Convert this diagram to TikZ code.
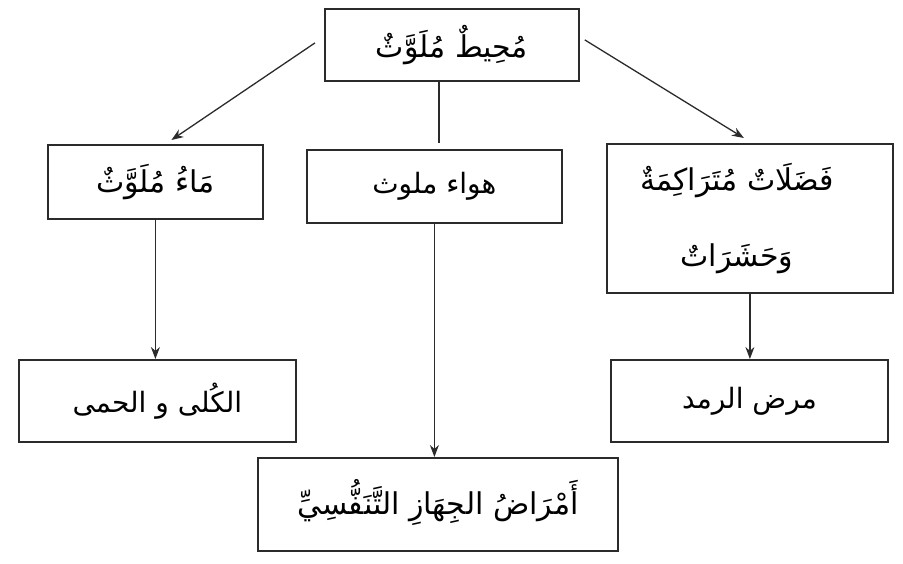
\documentclass[tikz,border=0pt]{standalone}
\usepackage{fontspec}
\usetikzlibrary{arrows.meta,calc}
\TeXXeTstate=1
\newfontfamily\arabicfont[Script=Arabic]{DejaVu Sans}
\definecolor{ink}{HTML}{2B2B2B}
\tikzset{
  box/.style={draw=ink, line width=1.8pt, inner sep=0pt, anchor=north west,
    font=\arabicfont\fontsize{30}{76}\selectfont, align=center, text=black},
  plainfont/.style={font=\arabicfont\fontsize{28}{40}\selectfont},
  arr/.style={draw=ink, line width=1.3pt, -{Stealth[length=12pt,width=9pt]}},
  plain/.style={draw=ink, line width=1.8pt},
}
\begin{document}
\begin{tikzpicture}[x=1pt,y=-1pt]
\useasboundingbox (0,0) rectangle (903,563);
\node[box, minimum width=254pt, minimum height=72pt] (top) at (324,8)
  {\raisebox{3pt}{\beginR مُحِيطٌ مُلَوَّثٌ\endR}};
\node[box, minimum width=215pt, minimum height=74pt] (left) at (47,144)
  {\beginR مَاءُ مُلَوَّثٌ\endR};
\node[box, plainfont, minimum width=255pt, minimum height=73pt] (mid) at (306,149)
  {\beginR هواء ملوث\endR};
\node[box, minimum width=286pt, minimum height=149pt] (right) at (606,143)
  {\beginR فَضَلَاتٌ مُتَرَاكِمَةٌ\endR\hspace*{26pt}\\\beginR وَحَشَرَاتٌ\endR\hspace*{26pt}};
\node[box, plainfont, minimum width=277pt, minimum height=82pt] (bl) at (18,359)
  {\beginR الكُلى و الحمى\endR};
\node[box, plainfont, minimum width=277pt, minimum height=82pt] (br) at (610,359)
  {\beginR مرض الرمد\endR};
\node[box, minimum width=360pt, minimum height=93pt] (bc) at (257,457)
  {\raisebox{15pt}{\beginR أَمْرَاضُ الجِهَازِ التَّنَفُّسِيِّ\endR}};
\draw[arr] ([xshift=-9pt,yshift=2pt]top.west) -- ([xshift=16pt,yshift=4pt]left.north);
\draw[arr] ([xshift=5pt,yshift=5pt]top.east) -- ([xshift=-6pt,yshift=5pt]right.north);
\draw[plain] ([xshift=-13pt]top.south) -- ([xshift=4.5pt,yshift=6pt]mid.north);
\draw[arr] (left.south) -- (left.south |- bl.north);
\draw[arr] (mid.south) -- (mid.south |- bc.north);
\draw[arr] (right.south) -- (right.south |- br.north);
\end{tikzpicture}
\end{document}
